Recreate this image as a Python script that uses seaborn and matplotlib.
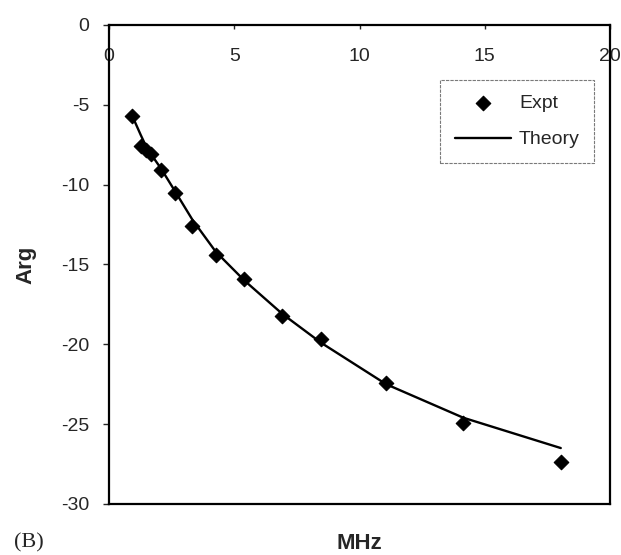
""" Phase vs frequency: experiment and theory """

import matplotlib.pyplot as plt
import pandas as pd
import seaborn as sns

sns.set_style('white')
plt.rcParams['font.family'] = ['Liberation Sans', 'DejaVu Sans']

# Experimental points (MHz, Arg)
freqExpt = [0.93, 1.27, 1.48, 1.68, 2.08, 2.63, 3.33, 4.26, 5.40, 6.92,
            8.46, 11.06, 14.14, 18.03]
argExpt = [-5.7, -7.6, -7.8, -8.1, -9.1, -10.5, -12.6, -14.4, -15.9, -18.2,
           -19.7, -22.4, -24.9, -27.4]

# Theory curve read at the same frequencies
freqTheory = freqExpt
argTheory = [-5.7, -6.9, -7.6, -8.1, -9.0, -10.4, -12.2, -14.2, -16.0, -18.1,
             -19.9, -22.5, -24.6, -26.5]

xTicks = [0, 5, 10, 15, 20]
yTicks = [0, -5, -10, -15, -20, -25, -30]

dfExpt = pd.DataFrame({'MHz': freqExpt, 'Arg': argExpt})
dfTheory = pd.DataFrame({'MHz': freqTheory, 'Arg': argTheory})

fig = plt.figure(figsize=(6.21, 5.55), dpi=100)
ax = fig.add_axes([0.1755, 0.092, 0.807, 0.863])

sns.lineplot(data=dfTheory, x='MHz', y='Arg', ax=ax, color='black',
             linewidth=1.7, label='Theory', sort=True)
sns.scatterplot(data=dfExpt, x='MHz', y='Arg', ax=ax, marker='D', s=55,
                color='black', edgecolor='black', linewidth=0.8, label='Expt',
                zorder=3)

ax.set_xlim(0, 20)
ax.set_ylim(-30, 0)
ax.set_xticks(xTicks)
ax.set_yticks(yTicks)
ax.set_yticklabels([str(t) for t in yTicks])

# x axis crosses at y = 0 (top), labels sit just inside below it
ax.tick_params(axis='x', top=True, bottom=False, labeltop=True,
               labelbottom=False, direction='in', length=3, width=1,
               pad=-29, labelsize=14)
ax.tick_params(axis='y', left=True, direction='out', length=4, width=1,
               pad=10, labelsize=14)
for lab in ax.get_xticklabels():
    lab.set_verticalalignment('bottom')

for sp in ax.spines.values():
    sp.set_color('black')
    sp.set_linewidth(1.6)

ax.xaxis.set_label_position('bottom')
ax.set_xlabel('MHz', fontsize=16, fontweight='bold', labelpad=21)
ax.set_ylabel('Arg', fontsize=16, fontweight='bold', labelpad=18)

handles, labels = ax.get_legend_handles_labels()
order = [labels.index('Expt'), labels.index('Theory')]
leg = ax.legend([handles[i] for i in order], [labels[i] for i in order],
                loc='upper left', bbox_to_anchor=(0.661, 0.885),
                borderaxespad=0, fontsize=14, frameon=True, fancybox=False,
                handlelength=2.9, handletextpad=0.4, borderpad=0.75,
                labelspacing=0.95)
frame = leg.get_frame()
frame.set_edgecolor('0.35')
frame.set_linewidth(0.8)
frame.set_linestyle((0, (3, 1)))

fig.text(0.022, 0.014, '(B)', fontsize=16,
         family=['Liberation Serif', 'DejaVu Serif'])

fig.savefig('out.png', dpi=100)
plt.close(fig)
